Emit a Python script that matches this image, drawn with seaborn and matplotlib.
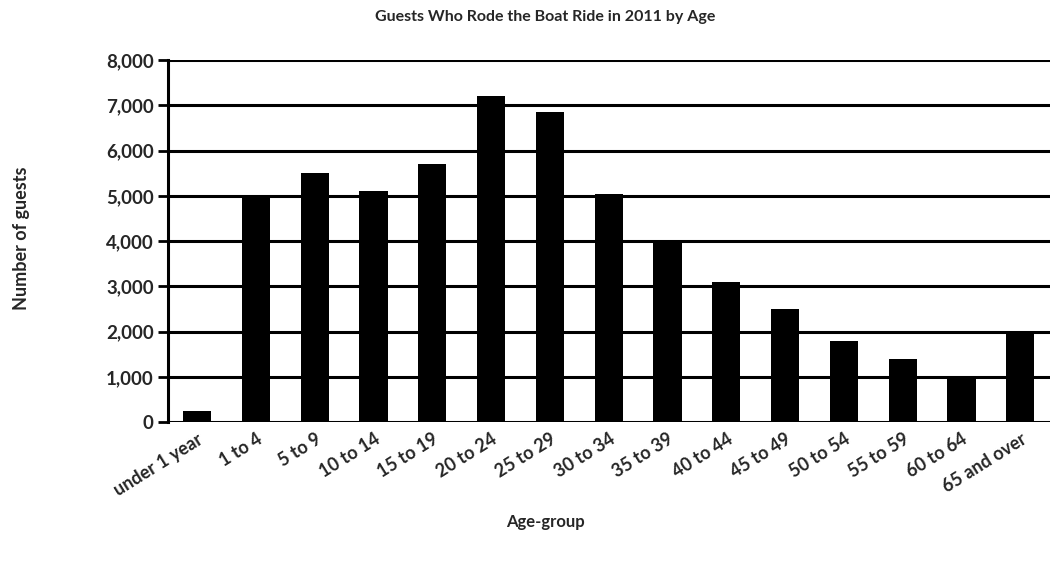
import matplotlib
matplotlib.use("Agg")
import matplotlib.pyplot as plt
import seaborn as sns
import pandas as pd
from matplotlib.ticker import FuncFormatter

age_groups = ["under 1 year", "1 to 4", "5 to 9", "10 to 14", "15 to 19",
              "20 to 24", "25 to 29", "30 to 34", "35 to 39", "40 to 44",
              "45 to 49", "50 to 54", "55 to 59", "60 to 64", "65 and over"]
guests = [250, 5000, 5500, 5100, 5700, 7200, 6850, 5050, 4000, 3100,
          2500, 1800, 1400, 1000, 2000]
y_ticks = [0, 1000, 2000, 3000, 4000, 5000, 6000, 7000, 8000]

title = "Guests Who Rode the Boat Ride in 2011 by Age"
x_label = "Age-group"
y_label = "Number of guests"

df = pd.DataFrame({"age": age_groups, "guests": guests})

sns.set_style("white")
plt.rcParams["font.family"] = ["Lato", "DejaVu Sans"]

fig = plt.figure(figsize=(10.55, 5.63), dpi=100)
ax = fig.add_axes([0.159, 0.25, 0.836, 0.643])

for t in y_ticks:
    ax.axhline(t, color="black", lw=2.2, zorder=0)

sns.barplot(data=df, x="age", y="guests", color="black", width=0.48,
            saturation=1, ax=ax, zorder=3, edgecolor="black", linewidth=0)

ax.set_ylim(0, 8000)
ax.set_xlim(-0.5, 14.5)
ax.set_yticks(y_ticks)
ax.yaxis.set_major_formatter(FuncFormatter(lambda v, p: f"{int(v):,}"))
for s in ["top", "right", "bottom"]:
    ax.spines[s].set_visible(False)
ax.spines["left"].set_linewidth(2.2)
ax.spines["left"].set_color("black")
ax.tick_params(axis="y", which="major", left=True, length=7, width=2,
               color="black", labelsize=13.5, pad=3)
ax.tick_params(axis="x", length=0, labelsize=13, pad=6)
for lbl in ax.get_yticklabels():
    lbl.set_fontweight("bold")
ax.set_xticks(range(len(age_groups)))
ax.set_xticklabels(age_groups, rotation=32, ha="right",
                   rotation_mode="anchor", fontweight="bold")

ax.set_xlabel("")
ax.set_ylabel("")
fig.text(545 / 1055, 1 - 522 / 563, x_label, ha="center", va="center",
         fontsize=12, fontweight="bold")
fig.text(22 / 1055, 1 - 238 / 563, y_label, ha="center", va="center",
         rotation=90, fontsize=13, fontweight="bold")
fig.text(545 / 1055, 1 - 17 / 563, title, ha="center", va="center",
         fontsize=11.5, fontweight="bold")

fig.savefig("out.png", dpi=100, facecolor="white")
